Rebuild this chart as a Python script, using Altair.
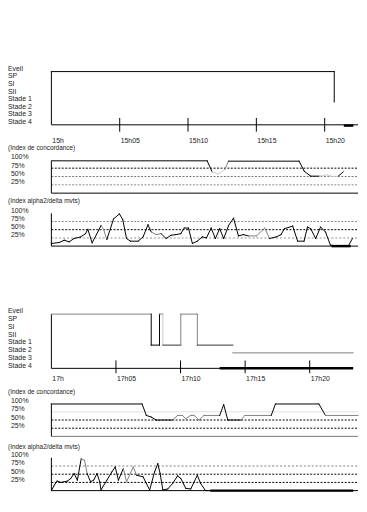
import altair as alt
import pandas as pd

FONT = "Liberation Sans"
K, G, L, D = "#000000", "#808080", "#c8c8c8", "#333333"

STAGES = ["Eveil", "SP", "SI", "SII", "Stade 1", "Stade 2", "Stade 3", "Stade 4"]
STAGE_LEVELS = [0, 1, 2, 3, 4, 5, 6, 7]
PCT_LABELS = ["100%", "75%", "50%", "25%"]
PCT_VALUES = [100, 75, 50, 25]
TICK_T = [0, 5, 10, 15, 20]
TOP_TICK_LAB = ["15h", "15h05", "15h10", "15h15", "15h20"]
BOT_TICK_LAB = ["17h", "17h05", "17h10", "17h15", "17h20"]
TITLE_CONC = "(Index de concordance)"
TITLE_ALPHA = "(Index alpha2/delta mvts)"

# ---- top recording (15h) ----
TOP_HYP_T = [0, 20.7, 20.7]
TOP_HYP_V = [0, 0, 4]
TOP_HYP_C = [K, K]

TOP_CONC_T = [0, 11.4, 11.76, 12.2, 12.7, 12.96, 18.13, 18.5, 18.97, 19.6, 20.2, 20.6, 21.0, 21.36]
TOP_CONC_V = [97, 97, 64, 58, 71, 96, 96, 66, 51, 51, 55, 50, 51, 64]
TOP_CONC_C = [K, K, L, L, G, K, K, K, K, L, L, L, K]

TOP_ALPHA_T = [0, 0.58, 0.94, 1.30, 1.66, 2.14, 2.50, 2.67, 2.98, 3.46, 3.63, 3.82, 4.06, 4.55,
               4.98, 5.22, 5.50, 5.79, 6.35, 6.71, 7.07, 7.31, 7.67, 8.03, 8.39, 8.75, 9.11, 9.47,
               9.72, 10.03, 10.32, 10.68, 11.04, 11.35, 11.69, 12.00, 12.32, 12.61, 12.97, 13.33,
               13.69, 14.05, 14.41, 15.01, 15.61, 15.97, 16.45, 16.81, 17.05, 17.66, 18.02, 18.49,
               18.74, 18.98, 19.34, 19.70, 20.06, 20.42, 20.78, 21.26, 21.74, 22.03]
TOP_ALPHA_V = [8, 11, 18, 13, 23, 28, 38, 51, 10, 48, 63, 51, 20, 83, 98, 81, 23, 15, 15, 28,
               65, 43, 35, 38, 23, 33, 35, 38, 55, 55, 8, 15, 28, 25, 55, 23, 53, 23, 63, 85,
               31, 35, 31, 31, 55, 23, 28, 35, 53, 61, 15, 15, 58, 53, 23, 58, 43, 3, 1, 1, 1, 23]
TOP_ALPHA_GRAY = [10, 11, 21, 22, 42, 43, 44]

TOP_HYP_MARK = [21.4, 22.1]
TOP_ALPHA_MARK = [20.5, 21.9]

# ---- bottom recording (17h) ----
BOT_HYP_T = [0, 7.73, 7.73, 8.37, 8.37, 8.63, 8.63, 10.02, 10.02, 11.3, 11.3, 14.05]
BOT_HYP_V = [0, 0, 4, 4, 0, 0, 4, 4, 0, 0, 4, 4]
BOT_HYP_C = [G, K, K, K, G, L, D, G, G, G, D]
BOT_HYP2_T = [14.05, 23.36]
BOT_HYP2_V = [5, 5]
BOT_HYP2_C = [G]

BOT_CONC_T = [0, 7.02, 7.35, 7.73, 8.11, 9.39, 9.77, 10.15, 10.40, 10.79, 11.05, 11.43, 11.81,
              13.03, 13.34, 13.66, 14.68, 14.98, 17.02, 17.35, 20.71, 21.22, 23.74]
BOT_CONC_V = [99, 99, 64, 59, 50, 50, 64, 64, 54, 64, 64, 50, 64, 64, 97, 50, 50, 64, 64, 99, 99, 64, 64]
BOT_CONC_C = [K, K, K, K, K, G, G, G, G, G, G, G, G, K, K, K, G, G, K, K, K, G]

BOT_ALPHA_T = [0, 0.23, 0.44, 0.74, 1.24, 1.50, 1.76, 2.01, 2.31, 2.57, 2.77, 3.03, 3.28, 3.53,
               3.74, 3.84, 4.30, 4.68, 4.94, 5.19, 5.57, 5.82, 6.34, 6.59, 7.10, 7.35, 7.61, 7.99,
               8.24, 8.42, 8.63, 9.01, 9.39, 9.77, 10.02, 10.40, 10.79, 11.30, 11.55, 11.93, 23.36]
BOT_ALPHA_V = [0, 17, 29, 25, 29, 37, 52, 32, 97, 92, 52, 27, 32, 52, 27, 2, 32, 57, 72, 32,
               67, 27, 72, 47, 42, 22, 2, 57, 82, 52, 2, 5, 22, 45, 37, 7, 5, 47, 22, 0, 0]
BOT_ALPHA_GRAY = [8, 9, 20, 21, 22]

BOT_HYP_MARK = [13.03, 23.36]
BOT_ALPHA_MARK = [12.3, 23.36]

TOP_XMAX, BOT_XMAX = 22.44, 23.74
TOP_AXIS_END, BOT_AXIS_END = 22.44, 23.36

# ---- scales (pixel ranges place each panel) ----
def sc(dom, rng):
    return alt.Scale(domain=dom, range=rng, nice=False, zero=False)

XS_TOP = sc([0, TOP_XMAX], [44, 355])
XS_BOT = sc([0, BOT_XMAX], [44, 355])
YS_HYP_TOP = sc([0, 7], [61, 115])
YS_CONC_TOP = sc([0, 100], [184.3, 150.5])
YS_ALPHA_TOP = sc([0, 100], [238, 204.7])
YS_HYP_BOT = sc([0, 7], [307, 362])
YS_CONC_BOT = sc([0, 100], [431, 397.8])
YS_ALPHA_BOT = sc([0, 100], [486, 452.7])

ONE = pd.DataFrame({"k": [0]})
layers = []


def seg_df(ts, vs, cols):
    rows = []
    for i in range(len(ts) - 1):
        rows.append(dict(seg=i, t=ts[i], v=vs[i], c=cols[i], o=0))
        rows.append(dict(seg=i, t=ts[i + 1], v=vs[i + 1], c=cols[i], o=1))
    return pd.DataFrame(rows)


def line(ts, vs, cols, xs, ys, width=1.0):
    layers.append(
        alt.Chart(seg_df(ts, vs, cols)).mark_line(strokeWidth=width, strokeCap="square").encode(
            x=alt.X("t:Q", scale=xs, axis=None),
            y=alt.Y("v:Q", scale=ys, axis=None),
            detail="seg:N",
            color=alt.Color("c:N", scale=None),
            order="o:Q",
        )
    )


def hrule(v, t0, t1, xs, ys, color=K, dash=None, width=1.0):
    mk = dict(color=color, strokeWidth=width)
    if dash:
        mk["strokeDash"] = dash
    layers.append(
        alt.Chart(ONE).mark_rule(**mk).encode(
            x=alt.XDatum(t0, type="quantitative", scale=xs, axis=None),
            x2=alt.X2Datum(t1),
            y=alt.YDatum(v, type="quantitative", scale=ys, axis=None),
        )
    )


def vrule(t, v0, v1, xs, ys, color=K, width=1.0):
    layers.append(
        alt.Chart(ONE).mark_rule(color=color, strokeWidth=width).encode(
            x=alt.XDatum(t, type="quantitative", scale=xs, axis=None),
            y=alt.YDatum(v0, type="quantitative", scale=ys, axis=None),
            y2=alt.Y2Datum(v1),
        )
    )


def ylabels(labels, values, ys, xpix, dy, size=7):
    df = pd.DataFrame({"lab": labels, "v": values})
    layers.append(
        alt.Chart(df).mark_text(align="left", baseline="middle", dy=dy, fontSize=size,
                                font=FONT, color="#222").encode(
            x=alt.value(xpix),
            y=alt.Y("v:Q", scale=ys, axis=None),
            text="lab:N",
        )
    )


def title(text, ys, dy):
    layers.append(
        alt.Chart(pd.DataFrame({"lab": [text]})).mark_text(
            align="left", baseline="middle", dy=dy, fontSize=6.5, font=FONT, color="#222"
        ).encode(
            x=alt.value(0),
            y=alt.YDatum(100, type="quantitative", scale=ys, axis=None),
            text="lab:N",
        )
    )


def time_axis(xs, ys, axis_end, labels, lab_dy, tick0, tick1):
    hrule(7, 0, axis_end, xs, ys)
    vrule(0, 0, 7, xs, ys)
    ticks = pd.DataFrame({"t": TICK_T[1:]})
    layers.append(
        alt.Chart(ticks).mark_rule(color=K, strokeWidth=1).encode(
            x=alt.X("t:Q", scale=xs, axis=None),
            y=alt.YDatum(tick0, type="quantitative", scale=ys, axis=None),
            y2=alt.Y2Datum(tick1),
        )
    )
    df = pd.DataFrame({"t": TICK_T, "lab": labels})
    layers.append(
        alt.Chart(df).mark_text(align="left", baseline="middle", dx=1, dy=lab_dy, fontSize=7,
                                font=FONT, color="#222").encode(
            x=alt.X("t:Q", scale=xs, axis=None),
            y=alt.YDatum(7, type="quantitative", scale=ys, axis=None),
            text="lab:N",
        )
    )


def colors_with_gray(n, gray_idx):
    return [G if i in gray_idx else K for i in range(n)]


# ===== top hypnogram =====
time_axis(XS_TOP, YS_HYP_TOP, TOP_AXIS_END, TOP_TICK_LAB, 16, 6.1, 7.9)
ylabels(STAGES, STAGE_LEVELS, YS_HYP_TOP, 0, -2.8)
line(TOP_HYP_T, TOP_HYP_V, TOP_HYP_C, XS_TOP, YS_HYP_TOP)
hrule(7.1, TOP_HYP_MARK[0], TOP_HYP_MARK[1], XS_TOP, YS_HYP_TOP, width=2.5)

# ===== top concordance =====
title(TITLE_CONC, YS_CONC_TOP, -12.3)
ylabels(PCT_LABELS, PCT_VALUES, YS_CONC_TOP, 3, -2.5)
hrule(75, 0, TOP_XMAX, XS_TOP, YS_CONC_TOP, K, [2, 1.5])
hrule(50, 0, TOP_XMAX, XS_TOP, YS_CONC_TOP, "#777", [2, 1.5])
hrule(25, 0, TOP_XMAX, XS_TOP, YS_CONC_TOP, "#888", [2, 1.5])
hrule(0, 0, TOP_XMAX, XS_TOP, YS_CONC_TOP, K)
vrule(0, 0, 96, XS_TOP, YS_CONC_TOP)
line(TOP_CONC_T, TOP_CONC_V, TOP_CONC_C, XS_TOP, YS_CONC_TOP)

# ===== top alpha =====
title(TITLE_ALPHA, YS_ALPHA_TOP, -12.7)
ylabels(PCT_LABELS, PCT_VALUES, YS_ALPHA_TOP, 3, -2.5)
hrule(75, 0, TOP_XMAX, XS_TOP, YS_ALPHA_TOP, "#888", [2, 1.5])
hrule(50, 0, TOP_XMAX, XS_TOP, YS_ALPHA_TOP, K, [2, 1.5])
hrule(25, 0, TOP_XMAX, XS_TOP, YS_ALPHA_TOP, "#c8c8c8", [2, 2], 2)
hrule(0, 0, TOP_XMAX, XS_TOP, YS_ALPHA_TOP, K)
vrule(0, 0, 100, XS_TOP, YS_ALPHA_TOP)
line(TOP_ALPHA_T, TOP_ALPHA_V, colors_with_gray(len(TOP_ALPHA_T) - 1, TOP_ALPHA_GRAY), XS_TOP, YS_ALPHA_TOP)
hrule(0, TOP_ALPHA_MARK[0], TOP_ALPHA_MARK[1], XS_TOP, YS_ALPHA_TOP, width=2.5)

# ===== bottom hypnogram =====
time_axis(XS_BOT, YS_HYP_BOT, BOT_AXIS_END, BOT_TICK_LAB, 11, 5.98, 7.63)
ylabels(STAGES, STAGE_LEVELS, YS_HYP_BOT, 0, -2.8)
line(BOT_HYP_T, BOT_HYP_V, BOT_HYP_C, XS_BOT, YS_HYP_BOT)
line(BOT_HYP2_T, BOT_HYP2_V, BOT_HYP2_C, XS_BOT, YS_HYP_BOT)
hrule(7, BOT_HYP_MARK[0], BOT_HYP_MARK[1], XS_BOT, YS_HYP_BOT, width=2.5)

# ===== bottom concordance =====
title(TITLE_CONC, YS_CONC_BOT, -11.6)
ylabels(PCT_LABELS, PCT_VALUES, YS_CONC_BOT, 3, -2.5)
hrule(75, 0, BOT_XMAX, XS_BOT, YS_CONC_BOT, "#e0e0e0")
hrule(50, 0, BOT_XMAX, XS_BOT, YS_CONC_BOT, K, [2, 1.5])
hrule(25, 0, BOT_XMAX, XS_BOT, YS_CONC_BOT, K, [2, 1.5])
hrule(0, 0, BOT_XMAX, XS_BOT, YS_CONC_BOT, "#777")
vrule(0, 0, 100, XS_BOT, YS_CONC_BOT)
line(BOT_CONC_T, BOT_CONC_V, BOT_CONC_C, XS_BOT, YS_CONC_BOT)

# ===== bottom alpha =====
title(TITLE_ALPHA, YS_ALPHA_BOT, -10.7)
ylabels(PCT_LABELS, PCT_VALUES, YS_ALPHA_BOT, 3, -2.5)
hrule(75, 0, BOT_XMAX, XS_BOT, YS_ALPHA_BOT, "#aaaaaa", [2, 2], 1.5)
hrule(50, 0, BOT_XMAX, XS_BOT, YS_ALPHA_BOT, K, [2, 1.5])
hrule(25, 0, BOT_XMAX, XS_BOT, YS_ALPHA_BOT, K, [2, 1.5])
hrule(0, 0, BOT_XMAX, XS_BOT, YS_ALPHA_BOT, K)
vrule(0, 0, 100, XS_BOT, YS_ALPHA_BOT)
line(BOT_ALPHA_T, BOT_ALPHA_V, colors_with_gray(len(BOT_ALPHA_T) - 1, BOT_ALPHA_GRAY), XS_BOT, YS_ALPHA_BOT)
hrule(0, BOT_ALPHA_MARK[0], BOT_ALPHA_MARK[1], XS_BOT, YS_ALPHA_BOT, width=2.5)

chart = (
    alt.layer(*layers)
    .resolve_scale(x="independent", y="independent")
    .properties(width=356, height=490, autosize=alt.AutoSizeParams(type="none"), padding=0)
    .configure_view(stroke=None)
)

chart.save("out.html", embed_options={"renderer": "svg", "actions": False})
